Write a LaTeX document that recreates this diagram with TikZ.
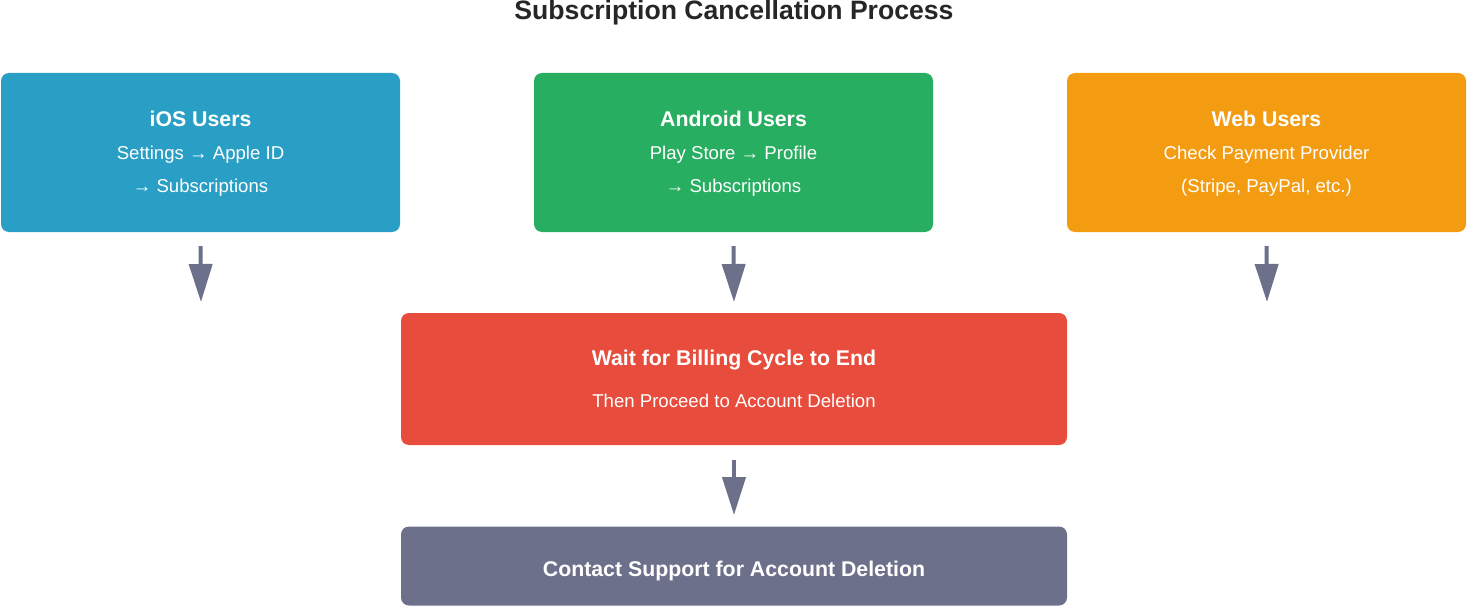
\documentclass[tikz,border=0pt]{standalone}
\usepackage{fontspec}
\setmainfont{Liberation Sans}
\usetikzlibrary{arrows.meta}
\definecolor{iosblue}{HTML}{2A9FC5}
\definecolor{droidgreen}{HTML}{27AE60}
\definecolor{weborange}{HTML}{F39C12}
\definecolor{waitred}{HTML}{E74C3C}
\definecolor{slate}{HTML}{6C708A}
\tikzset{
	box/.style={rounded corners=8pt, text=white, align=center, inner sep=0pt},
	userbox/.style={box, minimum width=399pt, minimum height=159pt},
	widebox/.style={box, minimum width=666pt},
	flow/.style={draw=slate, line width=4pt, -{Triangle[width=23pt,length=38pt]}, color=slate},
	head/.style={font=\fontsize{21.3}{24}\selectfont\bfseries},
	body/.style={font=\fontsize{18.6}{33}\selectfont}
}
\begin{document}
\begin{tikzpicture}[x=1pt,y=-1pt]
	\useasboundingbox (0,0) rectangle (1468,607);
	\node[font=\fontsize{26.6}{30}\selectfont\bfseries, text=black!85] (title) at (734,12.5) {Subscription Cancellation Process};
	\node[userbox, fill=iosblue] (ios) at (200.5,152.5) {};
	\node[userbox, fill=droidgreen] (android) at (733.5,152.5) {};
	\node[userbox, fill=weborange] (web) at (1266.5,152.5) {};
	\node[head, text=white] (iostitle) at (200.5,119) {iOS Users};
	\node[body, text=white, align=center] (iostext) at (200.5,171) {Settings → Apple ID\\→ Subscriptions};
	\node[head, text=white] (androidtitle) at (733.5,119) {Android Users};
	\node[body, text=white, align=center] (androidtext) at (733.5,171) {Play Store → Profile\\→ Subscriptions};
	\node[head, text=white] (webtitle) at (1266.5,119) {Web Users};
	\node[body, text=white, align=center] (webtext) at (1266.5,171) {Check Payment Provider\\(Stripe, PayPal, etc.)};
	\node[widebox, fill=waitred, minimum height=132pt] (wait) at (734,379) {};
	\node[head, text=white] (waittitle) at (734,360.5) {Wait for Billing Cycle to End};
	\node[body, text=white] (waittext) at (734,400.5) {Then Proceed to Account Deletion};
	\node[widebox, fill=slate, minimum height=79pt] (support) at (734,566) {};
	\node[head, text=white] (supporttext) at (734,570.5) {Contact Support for Account Deletion};
	\coordinate (iosend) at (201,302);
	\coordinate (androidend) at (734,302);
	\coordinate (webend) at (1267,302);
	\coordinate (waitend) at (734,515);
	\draw[flow] ([yshift=-14pt]ios.south) -- (iosend);
	\draw[flow] ([yshift=-14pt]android.south) -- (androidend);
	\draw[flow] ([yshift=-14pt]web.south) -- (webend);
	\draw[flow] ([yshift=-15pt]wait.south) -- (waitend);
\end{tikzpicture}
\end{document}
